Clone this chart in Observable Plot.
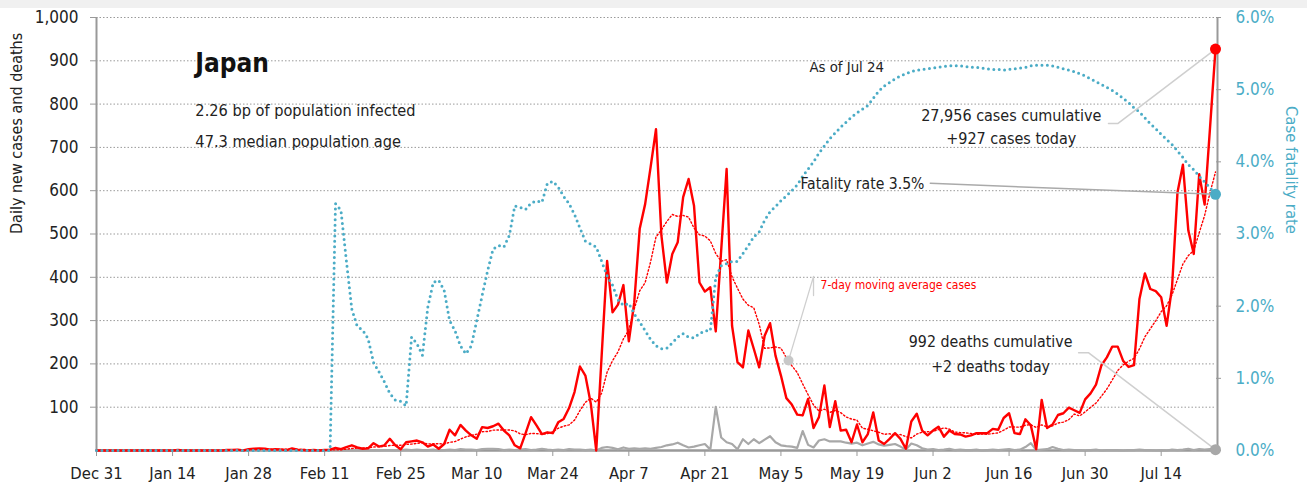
<!DOCTYPE html>
<html><head><meta charset="utf-8">
<script src="https://cdn.jsdelivr.net/npm/d3@7"></script>
<script src="https://cdn.jsdelivr.net/npm/@observablehq/plot@0.6"></script>
<style>
body{margin:0;background:#fff;}
#band{height:8px;background:#f0f0f0;}
</style></head><body><div id="band"></div><div id="chart"></div>
<script>
// ---- data (one value per day from Dec 31, 2019 to Jul 24, 2020) ----
const firstDay = "2019-12-31";
const cases = [
0,0,0,0,0,0,0,0,0,0,
0,0,0,0,0,1,0,0,0,0,
0,0,0,0,1,1,2,0,3,4,
5,4,2,3,2,1,5,2,1,0,
1,0,1,2,6,3,8,12,7,4,
5,17,9,12,27,12,3,19,21,23,
19,9,14,4,15,48,35,59,46,35,
27,54,52,56,62,46,35,12,5,40,
77,58,38,42,40,65,73,98,135,194,
173,108,0,220,438,319,337,382,252,342,
512,569,654,742,496,388,454,481,585,627,
565,388,367,377,275,462,650,288,204,192,
277,235,192,265,294,219,173,121,106,83,
81,119,52,77,150,54,114,46,48,19,
60,19,38,88,23,15,27,40,27,4,
67,85,46,35,46,55,32,46,38,37,
32,35,40,40,40,50,48,75,86,40,
38,72,58,3,117,52,60,82,86,99,
93,87,118,132,152,197,215,240,240,207,
193,197,350,409,373,368,354,288,377,596,
660,508,454,638,568,747,927];
const deaths = [
0,0,0,0,0,0,0,0,0,0,
0,0,0,0,0,0,0,0,0,0,
0,0,0,0,0,0,0,0,0,0,
0,0,0,0,0,0,0,0,0,0,
0,0,0,0,1,0,1,0,0,1,
0,1,0,1,1,0,1,2,1,2,
1,1,2,0,1,2,1,3,2,2,
1,3,4,4,3,1,2,1,2,3,
1,2,4,2,1,2,1,3,2,2,
1,2,0,6,8,6,3,7,4,5,
4,5,4,6,8,12,14,18,12,7,
9,12,15,2,101,30,19,15,3,26,
15,26,17,25,33,19,12,10,9,6,
45,13,7,23,26,21,21,21,18,16,
18,12,16,20,14,11,13,15,9,2,
16,12,5,2,3,1,2,4,1,2,
1,1,2,0,1,2,1,2,3,1,
2,8,17,1,2,3,8,4,1,2,
1,1,0,1,2,0,1,1,1,0,
1,1,2,1,1,0,1,0,2,1,
2,4,1,3,2,3,2];
// case fatality rate, percent
const cfr = [
0,0,0,0,0,0,0,0,0,0,
0,0,0,0,0,0,0,0,0,0,
0,0,0,0,0,0,0,0,0,0,
0,0,0,0,0,0,0,0,0,0,
0,0,0,0,3.42,3.33,2.63,1.96,1.72,1.67,
1.55,1.22,1.09,0.95,0.79,0.70,0.68,0.62,1.57,1.48,
1.32,1.99,2.33,2.36,2.22,1.80,1.66,1.45,1.34,1.45,
1.80,2.15,2.49,2.79,2.84,2.82,2.98,3.39,3.37,3.34,
3.43,3.46,3.44,3.70,3.73,3.65,3.52,3.42,3.27,3.08,
2.90,2.86,2.82,2.62,2.42,2.29,2.09,2.01,2.04,1.89,
1.78,1.66,1.54,1.45,1.41,1.42,1.49,1.57,1.62,1.57,
1.56,1.62,1.66,1.66,2.40,2.56,2.59,2.62,2.62,2.73,
2.84,2.96,3.03,3.19,3.31,3.38,3.46,3.53,3.60,3.68,
3.80,3.90,4.00,4.12,4.22,4.32,4.40,4.48,4.55,4.62,
4.68,4.73,4.78,4.88,4.98,5.05,5.10,5.15,5.19,5.22,
5.25,5.27,5.28,5.29,5.30,5.31,5.32,5.33,5.33,5.33,
5.32,5.31,5.31,5.30,5.29,5.28,5.28,5.27,5.28,5.29,
5.30,5.31,5.33,5.34,5.34,5.34,5.33,5.31,5.29,5.27,
5.25,5.22,5.19,5.15,5.11,5.07,5.03,4.99,4.94,4.88,
4.82,4.75,4.69,4.61,4.53,4.46,4.38,4.31,4.24,4.15,
4.06,3.96,3.89,3.80,3.72,3.64,3.55];

const xTickDates  = ["2019-12-31","2020-01-14","2020-01-28","2020-02-11","2020-02-25","2020-03-10","2020-03-24","2020-04-07","2020-04-21","2020-05-05","2020-05-19","2020-06-02","2020-06-16","2020-06-30","2020-07-14"];
const xTickLabels = ["Dec 31","Jan 14","Jan 28","Feb 11","Feb 25","Mar 10","Mar 24","Apr 7","Apr 21","May 5","May 19","Jun 2","Jun 16","Jun 30","Jul 14"];
const yTicks   = [100,200,300,400,500,600,700,800,900,1000];
const cfrTicks = [0,1,2,3,4,5,6];   // percent

const headerText = ["Japan","2.26 bp of population infected","47.3 median population age"];
const casesNote  = ["27,956 cases cumulative","+927 cases today"];
const deathsNote = ["992 deaths cumulative","+2 deaths today"];
const cfrNote    = "Fatality rate 3.5%";
const maNote     = "7-day moving average cases";
const asOfNote   = "As of Jul 24";

// ---- build ----
const t0 = Date.parse(firstDay + "T00:00Z");
const day = n => new Date(t0 + n * 864e5);
const rows = cases.map((c, i) => ({date: day(i), cases: c, deaths: deaths[i], cfr: cfr[i]}));
const last = rows[rows.length - 1];
const CFRMAX = 6, YMAX = 1000;
const cfrY = p => p * YMAX / CFRMAX;
const labelOf = new Map(xTickDates.map((s, i) => [Date.parse(s + "T00:00Z"), xTickLabels[i]]));

const FONT = '"DejaVu Sans Condensed","Liberation Sans Narrow",sans-serif';
const TEAL = "#4bacc6", GRAYL = "#a8a8a8", INK = "#222";
const pt = (d, v) => ({date: day(d), v});

const chart = Plot.plot({
  width: 1307, height: 483,
  marginTop: 9, marginBottom: 41, marginLeft: 96, marginRight: 92,
  style: {fontFamily: FONT, fontSize: "16px", color: INK, background: "transparent", overflow: "visible"},
  x: {type: "utc", domain: [day(0), day(cases.length - 1)]},
  y: {domain: [0, YMAX]},
  marks: [
    Plot.ruleY(yTicks, {stroke: "#9a9a9a", strokeDasharray: "1.5,2", strokeWidth: 1}),
    Plot.axisY(yTicks, {anchor: "left", tickFormat: d3.format(","), tickSize: 6, tickPadding: 12, fontSize: 17, stroke: "#999", fill: INK, label: null}),
    Plot.axisY(cfrTicks.map(cfrY), {anchor: "right", tickFormat: v => (v * CFRMAX / YMAX).toFixed(1) + "%", tickSize: 5, tickPadding: 15, fontSize: 17, stroke: "#999", fill: TEAL, label: null}),
    Plot.axisX(xTickDates.map(s => new Date(s + "T00:00Z")), {tickFormat: d => labelOf.get(+d), tickSize: 6, tickPadding: 11, fontSize: 16.5, stroke: "#999", fill: INK, label: null}),
    Plot.ruleX([day(0)], {stroke: "#999", strokeWidth: 2}),
    Plot.ruleX([day(cases.length - 1)], {stroke: "#999", strokeWidth: 2, dx: 2}),
    Plot.ruleY([0], {stroke: "#999", strokeWidth: 2.5}),
    Plot.text(["Daily new cases and deaths"], {frameAnchor: "left", rotate: -90, dx: -80, fontSize: 16, fill: INK}),
    Plot.text(["Case fatality rate"], {frameAnchor: "right", rotate: 90, dx: 76, fontSize: 16.5, fill: TEAL}),

    // series
    Plot.lineY(rows, {x: "date", y: "deaths", stroke: GRAYL, strokeWidth: 2.2}),
    Plot.lineY(rows, Plot.windowY({k: 7, anchor: "end"}, {x: "date", y: "cases", stroke: "#ff0000", strokeWidth: 1.4, strokeDasharray: "1.5,2.2"})),
    Plot.lineY(rows, {x: "date", y: "cases", stroke: "#ff0000", strokeWidth: 2.4}),
    Plot.lineY(rows, {x: "date", y: d => cfrY(d.cfr), stroke: TEAL, strokeWidth: 3, strokeDasharray: "0,5.4", strokeLinecap: "round"}),

    // leader lines
    Plot.line([pt(186.3, 755), pt(188, 755), {date: last.date, v: last.cases}], {x: "date", y: "v", stroke: "#cfcfcf", strokeWidth: 1.5}),
    Plot.line([pt(153.5, 617), {date: last.date, v: cfrY(last.cfr)}], {x: "date", y: "v", stroke: "#aaa", strokeWidth: 1.5}),
    Plot.line([pt(180.8, 226), pt(182.6, 226), {date: last.date, v: last.deaths}], {x: "date", y: "v", stroke: "#cfcfcf", strokeWidth: 1.5}),
    Plot.line([pt(132, 358), pt(132, 402), pt(127.4, 208)], {x: "date", y: "v", stroke: "#cfcfcf", strokeWidth: 1.3}),
    Plot.dot([pt(127.4, 208)], {x: "date", y: "v", r: 5, fill: "#c8c8c8"}),

    // end dots
    Plot.dot([last], {x: "date", y: "deaths", r: 5.5, fill: GRAYL}),
    Plot.dot([last], {x: "date", y: d => cfrY(d.cfr), r: 5.5, fill: TEAL}),
    Plot.dot([last], {x: "date", y: "cases", r: 5.5, fill: "#ff0000"}),

    // texts
    Plot.text([headerText[0]], {x: day(18.2), y: 873, textAnchor: "start", lineAnchor: "bottom", fontSize: 26, fontWeight: "bold", fill: "#111"}),
    Plot.text([headerText[1]], {x: day(18.2), y: 772, textAnchor: "start", lineAnchor: "bottom", fontSize: 16.2, fill: INK}),
    Plot.text([headerText[2]], {x: day(18.2), y: 700, textAnchor: "start", lineAnchor: "bottom", fontSize: 16.2, fill: INK}),
    Plot.text([asOfNote], {x: day(138.1), y: 874, lineAnchor: "bottom", fontSize: 14.8, fill: INK}),
    Plot.text([casesNote[0]], {x: day(168.4), y: 762, lineAnchor: "bottom", fontSize: 16, fill: INK}),
    Plot.text([casesNote[1]], {x: day(168.4), y: 708, lineAnchor: "bottom", fontSize: 16, fill: INK}),
    Plot.text([cfrNote], {x: day(141), y: 605, lineAnchor: "bottom", fontSize: 15.6, fill: INK}),
    Plot.text([maNote], {x: day(133.3), y: 373, textAnchor: "start", lineAnchor: "bottom", fontSize: 12, fill: "#ff0000"}),
    Plot.text([deathsNote[0]], {x: day(164.6), y: 239, lineAnchor: "bottom", fontSize: 15.8, fill: INK}),
    Plot.text([deathsNote[1]], {x: day(164.6), y: 181, lineAnchor: "bottom", fontSize: 15.8, fill: INK})
  ]
});
document.getElementById("chart").appendChild(chart);
</script>
</body></html>
